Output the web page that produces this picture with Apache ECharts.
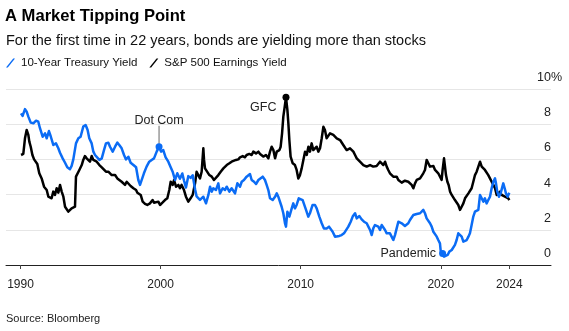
<!DOCTYPE html>
<html>
<head>
<meta charset="utf-8">
<script src="https://cdn.jsdelivr.net/npm/echarts@6/dist/echarts.min.js"></script>
<style>
  html, body { margin: 0; padding: 0; background: #fff; }
  #chart { width: 569px; height: 331px; }
</style>
</head>
<body>
<div id="chart"></div>
<script>
// 10-Year Treasury yield (%), dates as decimal years
const treasuryYears = [
  1990.04,1990.15,1990.32,1990.44,1990.56,1990.73,1990.92,1991.11,1991.27,1991.39,1991.58,1991.75,1991.87,
  1992.03,1992.15,1992.34,1992.53,1992.70,1992.82,1993.01,1993.18,1993.34,1993.53,1993.65,1993.77,1993.96,
  1994.13,1994.29,1994.48,1994.65,1994.79,1994.91,1995.08,1995.20,1995.32,1995.44,1995.63,1995.80,1995.96,
  1996.10,1996.27,1996.39,1996.58,1996.75,1996.91,1997.05,1997.22,1997.39,1997.53,1997.70,1997.86,
  1998.06,1998.25,1998.41,1998.53,1998.65,1998.81,1999.00,1999.19,1999.36,1999.53,1999.72,1999.89,
  2000.03,2000.19,2000.36,2000.55,2000.72,2000.86,2001.03,2001.19,2001.38,2001.55,2001.67,2001.81,2001.98,
  2002.14,2002.29,2002.46,2002.57,2002.69,2002.81,2003.05,2003.24,2003.41,2003.53,2003.65,2003.76,2003.95,
  2004.12,2004.24,2004.43,2004.60,2004.72,2004.91,2005.07,2005.19,2005.31,2005.48,2005.67,2005.79,2005.95,
  2006.14,2006.26,2006.38,2006.50,2006.67,2006.81,2006.98,2007.10,2007.29,2007.45,2007.57,2007.69,2007.81,
  2008.00,2008.17,2008.29,2008.40,2008.52,2008.64,2008.76,2008.88,2008.95,2009.05,2009.19,2009.36,2009.47,
  2009.59,2009.71,2009.86,2010.00,2010.14,2010.24,2010.38,2010.54,2010.66,2010.85,2011.02,2011.14,2011.33,
  2011.50,2011.66,2011.85,2012.02,2012.14,2012.28,2012.45,2012.57,2012.76,2012.92,2013.09,2013.23,2013.40,
  2013.57,2013.71,2013.88,2014.00,2014.19,2014.35,2014.52,2014.71,2014.83,2014.95,2015.07,2015.18,2015.30,
  2015.42,2015.54,2015.66,2015.78,2015.90,2016.02,2016.14,2016.25,2016.37,2016.49,2016.61,2016.73,2016.85,
  2016.97,2017.09,2017.21,2017.33,2017.44,2017.56,2017.68,2017.80,2017.92,2018.04,2018.16,2018.28,2018.40,
  2018.52,2018.63,2018.75,2018.87,2018.99,2019.11,2019.23,2019.35,2019.47,2019.59,2019.71,2019.82,2019.94,
  2020.01,2020.13,2020.23,2020.37,2020.49,2020.61,2020.78,2020.89,2021.01,2021.13,2021.25,2021.37,2021.49,
  2021.61,2021.73,2021.85,2021.97,2022.08,2022.20,2022.32,2022.44,2022.56,2022.68,2022.80,2022.92,2023.04,
  2023.15,2023.27,2023.39,2023.51,2023.63,2023.75,2023.87,2023.94,2024.03,2024.15,2024.27,2024.37,2024.46,
  2024.56,2024.65,2024.77,2024.89
];
const treasuryYields = [
  8.62,8.47,8.86,8.71,8.43,8.09,8.05,8.20,8.14,7.77,7.29,7.48,7.20,
  7.61,7.33,6.82,6.91,6.63,6.38,6.06,5.81,5.55,5.44,5.63,6.00,6.91,
  7.20,7.29,7.86,7.95,7.67,7.20,6.91,6.44,6.25,6.35,5.97,6.06,6.53,
  6.91,6.95,6.72,6.44,6.72,6.95,6.82,6.63,6.25,6.00,6.15,5.81,
  5.68,5.55,4.83,4.55,4.64,5.21,5.59,5.87,5.97,6.06,6.44,6.72,
  6.44,6.53,6.12,5.87,5.55,5.30,4.83,5.21,4.90,5.20,4.80,4.40,5.05,
  4.95,5.10,4.30,3.90,4.00,3.70,3.88,3.50,3.98,4.45,4.17,4.36,4.26,
  4.64,4.07,4.36,4.26,4.45,4.17,4.36,4.45,4.07,4.64,4.45,4.73,4.83,
  5.02,5.11,5.17,4.83,4.73,4.60,4.83,4.73,5.02,4.83,4.55,4.26,3.79,
  3.69,3.88,4.07,3.88,3.79,3.31,2.94,2.37,2.18,3.03,2.75,3.22,3.50,
  3.22,3.41,3.79,3.88,3.69,3.60,3.13,2.75,2.94,3.41,3.41,3.22,2.75,
  2.37,2.08,2.08,2.18,2.27,1.89,1.61,1.52,1.65,1.70,1.80,1.89,2.18,
  2.46,2.75,2.94,2.65,2.78,2.59,2.46,2.37,2.18,1.99,1.70,2.08,2.27,
  2.37,2.18,1.99,2.27,2.18,1.99,1.80,1.89,1.80,1.61,1.42,1.70,2.08,
  2.46,2.37,2.37,2.27,2.22,2.18,2.37,2.56,2.65,2.84,2.94,2.90,2.97,
  2.94,3.03,3.13,2.94,2.65,2.56,2.37,2.18,1.89,1.80,1.61,1.42,1.23,
  0.66,0.66,0.47,0.47,0.57,0.76,0.85,0.95,1.14,1.42,1.80,1.70,1.61,
  1.33,1.33,1.42,1.61,1.80,2.27,2.75,3.03,2.94,3.13,3.98,4.07,3.60,
  3.79,3.50,3.69,3.88,4.36,4.73,4.92,4.64,4.17,3.88,4.07,4.17,4.64,
  4.36,4.07,3.88,4.11
];

// S&P 500 earnings yield (%), dates as decimal years
const earningsYears = [
  1990.04,1990.20,1990.32,1990.44,1990.56,1990.63,1990.73,1990.85,1990.97,1991.11,1991.20,1991.34,1991.51,
  1991.68,1991.87,1991.99,1992.11,1992.22,1992.34,1992.46,1992.58,1992.70,1992.82,1992.94,1993.06,1993.18,
  1993.30,1993.41,1993.53,1993.65,1993.77,1993.89,1993.96,1994.06,1994.20,1994.37,1994.48,1994.60,1994.72,
  1994.84,1994.96,1995.08,1995.20,1995.32,1995.44,1995.63,1995.80,1995.91,1996.10,1996.27,1996.39,1996.51,
  1996.63,1996.75,1996.91,1997.05,1997.22,1997.34,1997.46,1997.58,1997.70,1997.86,1998.06,1998.25,1998.34,
  1998.48,1998.58,1998.72,1998.89,1999.05,1999.24,1999.43,1999.53,1999.67,1999.84,1999.96,2000.13,2000.31,
  2000.48,2000.62,2000.72,2000.86,2000.96,2001.10,2001.27,2001.38,2001.50,2001.67,2001.81,2001.98,2002.14,
  2002.29,2002.46,2002.57,2002.69,2002.81,2002.93,2003.05,2003.10,2003.17,2003.29,2003.48,2003.65,2003.81,
  2003.95,2004.12,2004.29,2004.48,2004.60,2004.72,2004.91,2005.07,2005.19,2005.38,2005.55,2005.67,2005.86,
  2006.02,2006.14,2006.33,2006.50,2006.62,2006.81,2006.98,2007.10,2007.21,2007.33,2007.52,2007.69,2007.81,
  2007.93,2008.05,2008.17,2008.29,2008.48,2008.57,2008.67,2008.76,2008.86,2008.95,2009.05,2009.12,2009.19,
  2009.28,2009.43,2009.59,2009.71,2009.83,2009.95,2010.07,2010.19,2010.31,2010.43,2010.55,2010.66,2010.78,
  2010.90,2011.02,2011.14,2011.26,2011.38,2011.50,2011.62,2011.73,2011.85,2011.97,2012.09,2012.21,2012.33,
  2012.45,2012.57,2012.69,2012.81,2012.92,2013.04,2013.16,2013.28,2013.40,2013.52,2013.64,2013.76,2013.88,
  2014.00,2014.11,2014.23,2014.35,2014.47,2014.59,2014.71,2014.83,2014.95,2015.07,2015.18,2015.30,2015.42,
  2015.54,2015.66,2015.78,2015.90,2016.02,2016.14,2016.25,2016.37,2016.49,2016.61,2016.73,2016.85,2016.97,
  2017.09,2017.21,2017.33,2017.44,2017.56,2017.68,2017.80,2017.92,2018.04,2018.16,2018.28,2018.40,2018.52,
  2018.63,2018.75,2018.87,2018.99,2019.11,2019.23,2019.35,2019.47,2019.59,2019.71,2019.82,2019.94,2020.06,
  2020.13,2020.23,2020.30,2020.37,2020.47,2020.56,2020.66,2020.78,2020.89,2021.01,2021.13,2021.25,2021.37,
  2021.49,2021.61,2021.73,2021.85,2021.97,2022.08,2022.20,2022.32,2022.44,2022.56,2022.68,2022.80,2022.92,
  2023.04,2023.15,2023.27,2023.39,2023.51,2023.63,2023.75,2023.87,2023.99,2024.11,2024.23,2024.34,2024.46,
  2024.58,2024.70,2024.82,2024.89
];
const earningsYields = [
  6.25,6.31,7.20,7.67,7.39,7.01,6.72,6.25,6.00,5.97,5.74,5.21,4.92,
  4.45,4.26,3.88,3.98,3.79,4.17,3.98,4.36,4.11,4.55,4.17,3.88,3.31,
  3.41,3.03,2.94,3.22,3.22,3.31,5.02,5.11,5.40,5.68,5.97,6.19,6.06,
  5.97,5.87,6.19,5.97,5.97,5.87,5.68,5.55,5.44,5.30,5.30,5.40,5.11,
  5.02,5.11,4.92,4.83,4.73,4.83,4.55,4.73,4.64,4.49,4.36,4.26,4.11,
  4.17,3.98,3.60,3.47,3.41,3.50,3.69,3.54,3.47,3.60,3.41,3.54,3.69,
  3.79,4.26,4.73,4.55,4.83,4.45,4.55,4.36,4.55,4.26,3.88,3.60,3.79,
  3.98,4.64,5.30,5.11,4.92,5.30,6.63,5.97,5.49,5.40,5.11,5.02,4.83,
  4.92,5.11,5.30,5.49,5.40,5.68,5.78,5.87,5.81,5.97,6.00,6.12,6.19,
  6.12,6.25,6.31,6.25,6.44,6.34,6.44,6.31,6.38,6.16,6.25,6.06,6.44,
  6.72,6.53,6.06,6.44,6.53,6.72,7.48,8.43,9.00,9.53,8.81,8.05,7.10,
  6.16,5.78,5.68,5.40,4.92,5.11,5.49,5.97,6.44,6.25,6.72,6.44,6.91,
  6.53,6.44,6.72,6.44,6.63,7.20,7.86,7.67,7.20,7.29,7.48,7.39,7.39,
  7.48,7.20,7.20,7.10,7.01,6.82,6.72,6.53,6.44,6.63,6.53,6.44,6.25,
  6.06,5.97,5.87,5.78,5.68,5.68,5.59,5.68,5.68,5.63,5.59,5.68,5.63,
  5.74,5.87,5.97,5.68,5.87,5.59,5.40,5.21,5.11,5.02,4.92,5.02,4.83,
  4.73,4.68,4.73,4.79,4.83,4.73,4.64,4.55,4.36,4.64,4.83,4.92,4.92,
  5.02,5.21,5.40,5.97,5.78,5.59,5.49,5.63,5.40,5.30,5.21,5.11,4.83,
  5.40,6.06,5.59,5.11,4.73,4.55,4.17,3.98,3.88,3.69,3.60,3.41,3.13,
  3.31,3.50,3.79,3.88,4.07,4.17,4.36,4.73,5.11,5.30,5.59,5.87,5.59,
  5.49,5.40,5.30,5.11,4.92,4.73,4.55,4.36,3.98,4.07,4.17,3.98,4.07,
  3.88,3.88,3.79,3.69
];

// x-axis ticks: the last tick sits on the final observation
const xTickYears = [1990, 2000, 2010, 2020, 2024.89];
const xTickLabels = ['1990', '2000', '2010', '2020', '2024'];

// annotated events: date and caption
const eventDotCom = { year: 1999.89, text: 'Dot Com' };
const eventGFC = { year: 2008.95, text: 'GFC' };
const eventPandemic = { year: 2020.13, text: 'Pandemic' };

const BLUE = '#0b6cf5';
const BLACK = '#000000';
const FONT = '"Liberation Sans", Arial, Helvetica, sans-serif';
const PCT_W = 11.1; // width of the "%" glyph at the tick font size

function pairs(xs, ys) { return xs.map((x, i) => [x, ys[i]]); }
function pointAt(xs, ys, year) {
  let best = 0;
  xs.forEach((x, i) => { if (Math.abs(x - year) < Math.abs(xs[best] - year)) best = i; });
  return [xs[best], ys[best]];
}

const dotComPt = pointAt(treasuryYears, treasuryYields, eventDotCom.year);
const gfcPt = pointAt(earningsYears, earningsYields, eventGFC.year);
const pandemicPt = pointAt(treasuryYears, treasuryYields, eventPandemic.year);

const annoLabel = { color: '#222', fontSize: 12.5, fontFamily: FONT };
const tickText = { fontSize: 12.5, color: '#222', fontFamily: FONT };

const chart = echarts.init(document.getElementById('chart'), null, { renderer: 'canvas' });
chart.setOption({
  animation: false,
  backgroundColor: '#fff',
  textStyle: { fontFamily: FONT },
  title: [
    { text: 'A Market Tipping Point', left: 5, top: 8, padding: 0,
      textStyle: { fontSize: 16.6, fontWeight: 'bold', color: '#000', fontFamily: FONT } },
    { text: 'For the first time in 22 years, bonds are yielding more than stocks', left: 6, top: 33, padding: 0,
      textStyle: { fontSize: 14.5, fontWeight: 'normal', color: '#111', fontFamily: FONT } }
  ],
  legend: {
    left: 6, top: 57, padding: 0,
    itemWidth: 9, itemHeight: 10, itemGap: 12,
    data: [
      { name: '10-Year Treasury Yield', icon: 'path://M0,10 L8,0 L10,0 L2,10 Z' },
      { name: 'S&P 500 Earnings Yield', icon: 'path://M0,10 L8,0 L10,0 L2,10 Z' }
    ],
    textStyle: { fontSize: 11.5, color: '#111', fontFamily: FONT, padding: [0, 0, 0, 1] }
  },
  grid: { left: 6, right: 18, top: 89, bottom: 66, containLabel: false },
  xAxis: {
    type: 'value', min: 1988.965, max: 2027.866,
    axisLine: { show: true, lineStyle: { color: '#222', width: 1 } },
    axisTick: { show: true, customValues: xTickYears, length: 4, lineStyle: { color: '#444' } },
    axisLabel: {
      customValues: xTickYears, margin: 14, fontSize: 12, color: '#222', fontFamily: FONT,
      formatter: v => { const i = xTickYears.indexOf(v); return i >= 0 ? xTickLabels[i] : ''; }
    },
    splitLine: { show: false }
  },
  yAxis: {
    type: 'value', position: 'right', min: 0, max: 10, interval: 2,
    axisLine: { show: false }, axisTick: { show: false },
    splitLine: { lineStyle: { color: '#e6e6e6', width: 1 } },
    axisLabel: {
      inside: true, margin: -PCT_W, verticalAlign: 'bottom',
      formatter: v => v === 10 ? '{n|10}{p|%}' : '{n|' + v + '}{s|}',
      rich: {
        n: Object.assign({ padding: [0, 0, 5, 0] }, tickText),
        p: Object.assign({ padding: [0, 0, 5, 0] }, tickText),
        s: Object.assign({ width: PCT_W, padding: [0, 0, 5, 0] }, tickText)
      }
    }
  },
  series: [
    {
      name: 'S&P 500 Earnings Yield', type: 'line', data: pairs(earningsYears, earningsYields),
      showSymbol: false, symbol: 'none', color: BLACK,
      lineStyle: { color: BLACK, width: 2.5, join: 'round' }, z: 2,
      markPoint: {
        silent: true,
        data: [
          { coord: gfcPt, symbol: 'circle', symbolSize: 7, itemStyle: { color: BLACK },
            label: Object.assign({ show: true, formatter: eventGFC.text, position: 'left', distance: 6, offset: [0, 10] }, annoLabel) }
        ]
      }
    },
    {
      name: '10-Year Treasury Yield', type: 'line', data: pairs(treasuryYears, treasuryYields),
      showSymbol: false, symbol: 'none', color: BLUE,
      lineStyle: { color: BLUE, width: 2.5, join: 'round' }, z: 3,
      markPoint: {
        silent: true,
        data: [
          { coord: dotComPt, symbol: 'rect', symbolSize: [1.3, 20], symbolOffset: [0, -11],
            itemStyle: { color: '#8a8a8a' },
            label: Object.assign({ show: true, formatter: eventDotCom.text, position: 'top', distance: -1 }, annoLabel) },
          { coord: dotComPt, symbol: 'circle', symbolSize: 7, itemStyle: { color: BLUE }, label: { show: false } },
          { coord: pandemicPt, symbol: 'circle', symbolSize: 7, itemStyle: { color: BLUE },
            label: Object.assign({ show: true, formatter: eventPandemic.text, position: 'left', distance: 3 }, annoLabel) }
        ]
      }
    }
  ],
  graphic: [
    { type: 'text', left: 6, top: 313, style: { text: 'Source: Bloomberg', fontSize: 11, fill: '#222', fontFamily: FONT } }
  ]
});
</script>
</body>
</html>
